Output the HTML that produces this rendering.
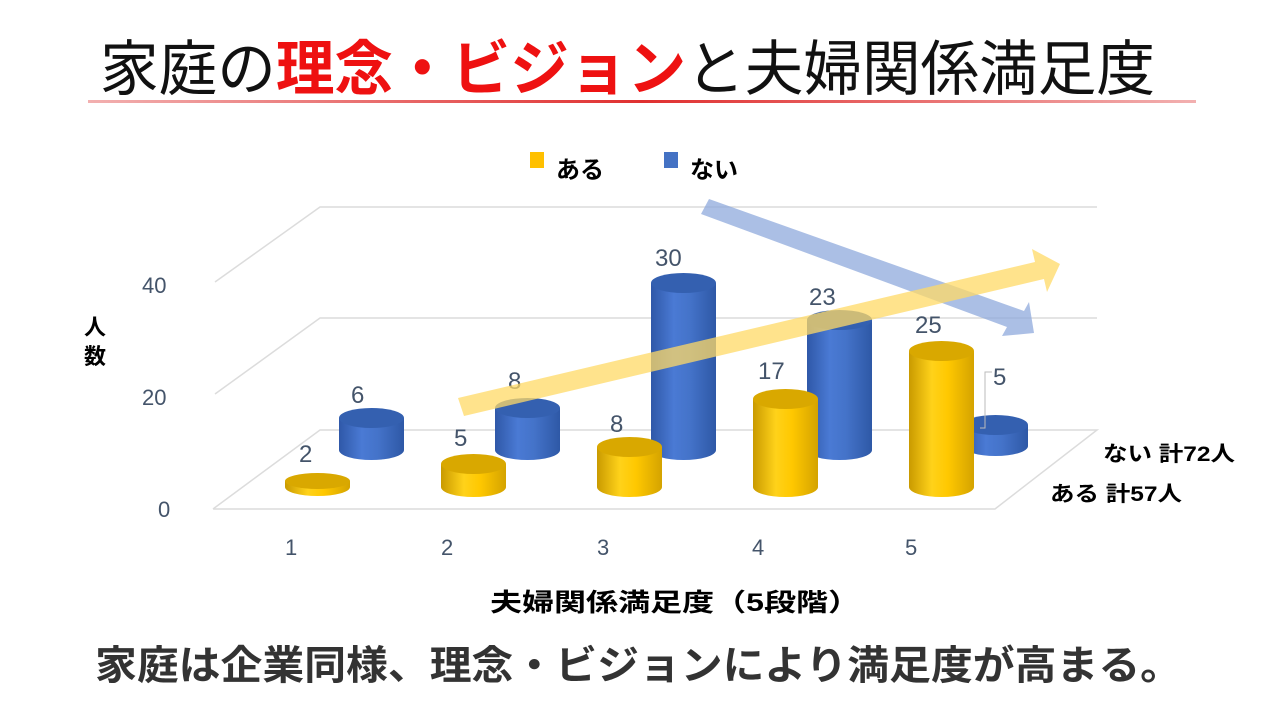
<!DOCTYPE html>
<html><head><meta charset="utf-8"><style>
html,body{margin:0;padding:0;background:#fff;width:1280px;height:720px;overflow:hidden}
svg text{font-family:"Liberation Sans","Noto Sans CJK JP",sans-serif}
</style></head><body>
<svg width="1280" height="720" viewBox="0 0 1280 720" xmlns="http://www.w3.org/2000/svg">
<defs>
<linearGradient id="gy" x1="0" x2="1" y1="0" y2="0">
<stop offset="0" stop-color="#c99a00"/><stop offset="0.35" stop-color="#ffd21a"/><stop offset="0.6" stop-color="#ffc800"/><stop offset="1" stop-color="#d4a300"/></linearGradient>
<linearGradient id="gb" x1="0" x2="1" y1="0" y2="0">
<stop offset="0" stop-color="#2f58a8"/><stop offset="0.35" stop-color="#4a7ad4"/><stop offset="0.6" stop-color="#4473c9"/><stop offset="1" stop-color="#2e58a6"/></linearGradient>
<linearGradient id="rl" x1="0" x2="1"><stop offset="0" stop-color="#f2b0b0"/><stop offset="0.5" stop-color="#e03030"/><stop offset="1" stop-color="#f2b0b0"/></linearGradient>
</defs>
<text x="100" y="90" font-size="60" textLength="1055" lengthAdjust="spacingAndGlyphs" fill="#111">家庭の<tspan fill="#ee1111" font-weight="bold">理念・ビジョン</tspan>と夫婦関係満足度</text>
<rect x="88" y="100" width="1108" height="3" fill="url(#rl)"/>
<rect x="530" y="152" width="14" height="16" fill="#ffc000"/>
<text x="556" y="178" font-size="24" font-weight="bold">ある</text>
<rect x="664" y="152" width="14" height="16" fill="#4472c4"/>
<text x="690" y="178" font-size="24" font-weight="bold">ない</text>
<g stroke="#dcdcdc" stroke-width="1.5" fill="none">
<polyline points="215,282 320,207 1097,207"/>
<polyline points="215,394 320,318 1097,318"/>
<polyline points="213,509 320,430 1097,430 995,509 213,509"/>
</g>
<g font-size="22" fill="#44546a">
<text x="142" y="293">40</text><text x="142" y="405">20</text><text x="158" y="517">0</text>
<text x="285" y="555">1</text><text x="441" y="555">2</text><text x="597" y="555">3</text><text x="752" y="555">4</text><text x="905" y="555">5</text>
</g>
<text x="84" y="335" font-size="22" font-weight="bold">人</text>
<text x="84" y="364" font-size="22" font-weight="bold">数</text>
<g>
<path d="M339,418 L339,450 A32.5,10 0 0 0 404,450 L404,418 Z" fill="url(#gb)"/><ellipse cx="371.5" cy="418" rx="32.5" ry="10" fill="#3460b0"/>
<path d="M495,408 L495,450 A32.5,10 0 0 0 560,450 L560,408 Z" fill="url(#gb)"/><ellipse cx="527.5" cy="408" rx="32.5" ry="10" fill="#3460b0"/>
<path d="M651,283 L651,450 A32.5,10 0 0 0 716,450 L716,283 Z" fill="url(#gb)"/><ellipse cx="683.5" cy="283" rx="32.5" ry="10" fill="#3460b0"/>
<path d="M807,320 L807,450 A32.5,10 0 0 0 872,450 L872,320 Z" fill="url(#gb)"/><ellipse cx="839.5" cy="320" rx="32.5" ry="10" fill="#3460b0"/>
<path d="M963,425 L963,446 A32.5,10 0 0 0 1028,446 L1028,425 Z" fill="url(#gb)"/><ellipse cx="995.5" cy="425" rx="32.5" ry="10" fill="#3460b0"/>
</g>
<g>
<path d="M285,481 L285,487 A32.5,9 0 0 0 350,487 L350,481 Z" fill="url(#gy)"/><ellipse cx="317.5" cy="481" rx="32.5" ry="8" fill="#d9a800"/>
<path d="M441,464 L441,487 A32.5,10 0 0 0 506,487 L506,464 Z" fill="url(#gy)"/><ellipse cx="473.5" cy="464" rx="32.5" ry="10" fill="#d9a800"/>
<path d="M597,447 L597,487 A32.5,10 0 0 0 662,487 L662,447 Z" fill="url(#gy)"/><ellipse cx="629.5" cy="447" rx="32.5" ry="10" fill="#d9a800"/>
<path d="M753,399 L753,487 A32.5,10 0 0 0 818,487 L818,399 Z" fill="url(#gy)"/><ellipse cx="785.5" cy="399" rx="32.5" ry="10" fill="#d9a800"/>
<path d="M909,351 L909,487 A32.5,10 0 0 0 974,487 L974,351 Z" fill="url(#gy)"/><ellipse cx="941.5" cy="351" rx="32.5" ry="10" fill="#d9a800"/>
</g>
<polyline points="980,428 985,428 985,372 992,372" stroke="#bbb" fill="none"/>
<g font-size="24" fill="#44546a">
<text x="299" y="462">2</text><text x="351" y="403">6</text><text x="454" y="446">5</text><text x="508" y="389">8</text>
<text x="610" y="432">8</text><text x="655" y="266">30</text><text x="758" y="379">17</text><text x="809" y="305">23</text>
<text x="915" y="333">25</text><text x="993" y="385">5</text>
</g>
<polygon points="701,214 709,199 1024,311 1029,302 1034,333 1002,336 1007,327" fill="#8faadc" opacity="0.75"/>
<polygon points="458,398 464,416 1044,279 1047,292 1060,264 1032,249 1035,262" fill="#ffd966" opacity="0.75"/>
<text x="1103" y="461" font-size="21" font-weight="bold" textLength="132" lengthAdjust="spacingAndGlyphs">ない 計72人</text>
<text x="1050" y="501" font-size="21" font-weight="bold" textLength="132" lengthAdjust="spacingAndGlyphs">ある 計57人</text>
<text x="490" y="611" font-size="25" font-weight="bold" textLength="370" lengthAdjust="spacingAndGlyphs">夫婦関係満足度（5段階）</text>
<text x="95" y="679" font-size="40" font-weight="bold" fill="#333" textLength="1087" lengthAdjust="spacingAndGlyphs">家庭は企業同様、理念・ビジョンにより満足度が高まる。</text>
</svg>
</body></html>
